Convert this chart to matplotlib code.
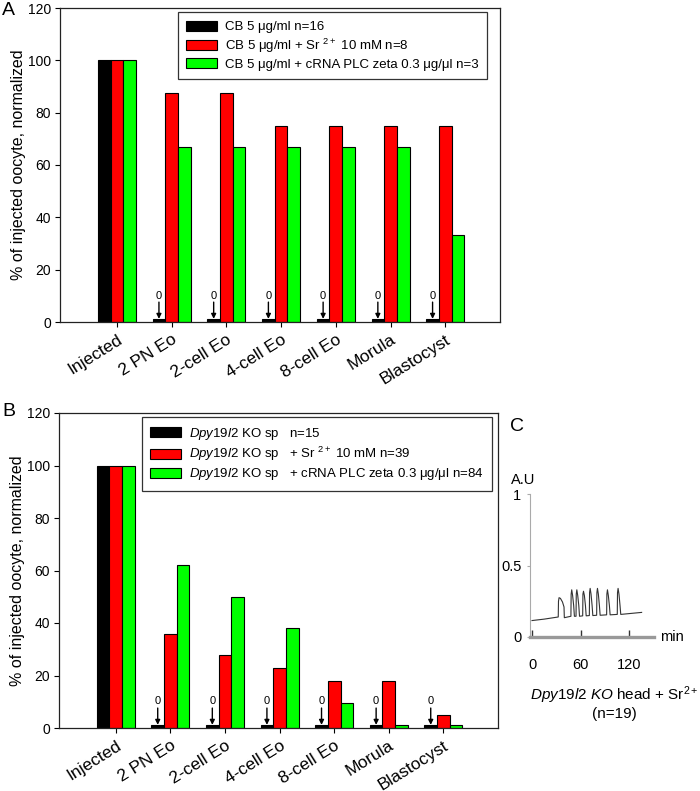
import matplotlib
matplotlib.use('Agg')
import matplotlib.pyplot as plt
import numpy as np
from matplotlib.patches import Patch
from matplotlib.transforms import ScaledTranslation

plt.rcParams['font.family'] = ['Liberation Sans', 'DejaVu Sans']
plt.rcParams['mathtext.fontset'] = 'custom'
plt.rcParams['mathtext.rm'] = 'Liberation Sans'
plt.rcParams['mathtext.it'] = 'Liberation Sans:italic'
plt.rcParams['mathtext.bf'] = 'Liberation Sans:bold'

# data
stages = ['Injected', '2 PN Eo', '2-cell Eo', '4-cell Eo', '8-cell Eo', 'Morula', 'Blastocyst']

a_black = [100, 0, 0, 0, 0, 0, 0]
a_red = [100, 87.5, 87.5, 75, 75, 75, 75]
a_green = [100, 66.7, 66.7, 66.7, 66.7, 66.7, 33.3]
a_labels = ['CB 5 μg/ml n=16',
            'CB 5 μg/ml + Sr $^{2+}$ 10 mM n=8',
            'CB 5 μg/ml + cRNA PLC zeta 0.3 μg/μl n=3']

b_black = [100, 0, 0, 0, 0, 0, 0]
b_red = [100, 36, 28, 23, 18, 18, 5]
b_green = [100, 62, 50, 38, 9.5, 1, 1]
b_labels = [r'$\it{Dpy19l2}$ KO sp   n=15',
            r'$\it{Dpy19l2}$ KO sp   + Sr $^{2+}$ 10 mM n=39',
            r'$\it{Dpy19l2}$ KO sp   + cRNA PLC zeta 0.3 μg/μl n=84']

# panel C trace (min, A.U)
trace_t = [0, 15, 32.3, 32.6, 33.3, 35.0, 37.5, 39.4, 39.8, 47.9,
           48.2, 48.9, 50.0, 51.3, 52.2, 54.2, 54.5, 55.2, 56.3, 57.6, 58.5,
           62.4, 62.7, 63.4, 64.5, 65.8, 66.7, 70.6, 70.9, 71.6, 72.7, 74.0, 74.9,
           79.6, 79.9, 80.6, 81.7, 83.0, 83.9, 91.9, 92.2, 92.9, 94.0, 95.3, 96.2,
           105.0, 105.3, 106.0, 107.1, 108.4, 109.3, 135]
trace_v = [0.115, 0.125, 0.14, 0.25, 0.275, 0.27, 0.245, 0.21, 0.135, 0.145,
           0.30, 0.33, 0.29, 0.22, 0.145, 0.145, 0.30, 0.33, 0.29, 0.22, 0.145,
           0.148, 0.30, 0.32, 0.29, 0.22, 0.148, 0.150, 0.31, 0.34, 0.30, 0.22, 0.150,
           0.152, 0.31, 0.34, 0.30, 0.22, 0.152, 0.155, 0.30, 0.33, 0.29, 0.22, 0.155,
           0.158, 0.31, 0.34, 0.30, 0.22, 0.158, 0.172]

colors = ['#000000', '#ff0000', '#00ff00']

fig = plt.figure(figsize=(7, 7.91), dpi=100)
axA = fig.add_axes([60 / 700, 1 - 322 / 791, 440 / 700, 314 / 791])
axB = fig.add_axes([59 / 700, 1 - 728 / 791, 439 / 700, 315 / 791])
axC = fig.add_axes([530.4 / 700, 1 - 637 / 791, 123.4 / 700, 143 / 791])


def bar_panel(ax, black, red, green, labels, anchor):
    x = np.arange(len(stages))
    w = 0.232
    ax.bar(x - w, np.maximum(black, 1), w, color=colors[0], edgecolor='black', lw=0.8)
    ax.bar(x, red, w, color=colors[1], edgecolor='black', lw=0.8)
    ax.bar(x + w, green, w, color=colors[2], edgecolor='black', lw=0.8)

    # zero markers
    for i, v in enumerate(black):
        if v == 0:
            ax.annotate('', xy=(i - w, 1.2), xytext=(i - w, 7.6),
                        arrowprops=dict(arrowstyle='-|>', color='black', lw=1,
                                        mutation_scale=7, shrinkA=0, shrinkB=0))
            ax.text(i - w, 8.2, '0', ha='center', va='bottom', fontsize=8)

    ax.set_xlim(-1.04, 7.0)
    ax.set_ylim(0, 120)
    ax.set_yticks(range(0, 121, 20))
    ax.set_xticks(x)
    ax.set_xticklabels(stages, rotation=32, ha='right', va='top',
                       rotation_mode='anchor', fontsize=12.5)
    off = ScaledTranslation(9 / 100, 0, fig.dpi_scale_trans)
    for lab in ax.get_xticklabels():
        lab.set_transform(lab.get_transform() + off)
    ax.tick_params(axis='x', length=3.5, width=0.8, pad=3.5)
    ax.tick_params(axis='y', length=3.5, width=0.8, pad=3, labelsize=10)
    for s in ax.spines.values():
        s.set_linewidth(0.9)
        s.set_color('#222222')
    ax.set_ylabel('% of injected oocyte, normalized', fontsize=11.5)
    ax.yaxis.set_label_coords(-0.078, 0.5)

    handles = [Patch(facecolor=c, edgecolor='black', lw=0.8) for c in colors]
    leg = ax.legend(handles, labels, loc='upper right', bbox_to_anchor=anchor,
                    fontsize=9.5, fancybox=False, edgecolor='black',
                    handlelength=2.3, handleheight=0.8, handletextpad=0.6,
                    labelspacing=0.25, borderpad=0.65, borderaxespad=0)
    leg.get_frame().set_linewidth(0.9)


bar_panel(axA, a_black, a_red, a_green, a_labels, (0.97, 0.987))
bar_panel(axB, b_black, b_red, b_green, b_labels, (0.986, 0.987))

# panel C
axC.plot(trace_t, trace_v, color='#333333', lw=0.8)
axC.set_xlim(-2, 150)
axC.set_ylim(0, 1)
axC.spines['top'].set_visible(False)
axC.spines['right'].set_visible(False)
axC.spines['bottom'].set_color('#999999')
axC.spines['bottom'].set_linewidth(2.4)
axC.spines['left'].set_color('#aaaaaa')
axC.spines['left'].set_linewidth(0.8)
axC.set_xticks([0, 60, 120])
axC.set_yticks([0, 0.5, 1])
axC.set_yticklabels(['0', '0.5', '1'])
axC.tick_params(axis='x', direction='in', length=5, width=1, color='#333333',
                pad=15, labelsize=10.5)
axC.tick_params(axis='y', length=2.5, width=0.8, color='#aaaaaa', pad=4, labelsize=10.5)
axC.text(1.05, 0, 'min', transform=axC.transAxes, ha='left', va='center', fontsize=10.5)
axC.text(-0.06, 1.1, 'A.U', transform=axC.transAxes, ha='center', va='center', fontsize=10.5)

fig.text(0.877, 0.1214, r'$\it{Dpy19l2\ KO}$ head + Sr$^{2+}$', ha='center', va='center', fontsize=11)
fig.text(0.877, 0.0973, '(n=19)', ha='center', va='center', fontsize=11)

# panel letters
fig.text(0.003, 0.997, 'A', ha='left', va='top', fontsize=14)
fig.text(0.003, 0.4905, 'B', ha='left', va='top', fontsize=14)
fig.text(0.729, 0.4716, 'C', ha='left', va='top', fontsize=14)

fig.savefig('out.png', dpi=100)
